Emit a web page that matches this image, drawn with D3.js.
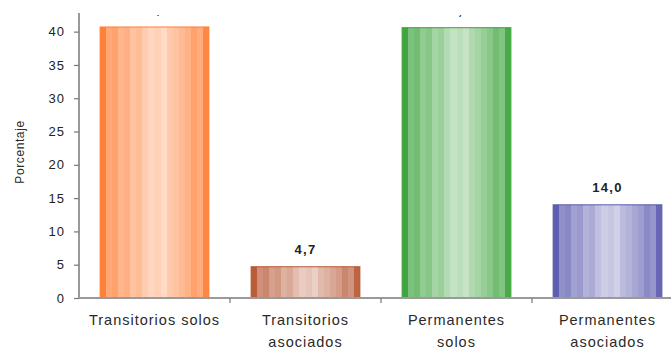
<!DOCTYPE html>
<html>
<head>
<meta charset="utf-8">
<script src="https://cdn.jsdelivr.net/npm/d3@7/dist/d3.min.js"></script>
<style>
  html, body { margin: 0; padding: 0; background: #fff; }
  svg { display: block; font-family: "Liberation Sans", Arial, sans-serif; }
</style>
</head>
<body>
<svg id="chart" width="671" height="349"></svg>
<script>
// Categories (two-line labels) and their percentages
const categories = ["Transitorios solos", "Transitorios asociados", "Permanentes solos", "Permanentes asociados"];
const categoryLines = [["Transitorios solos"], ["Transitorios", "asociados"], ["Permanentes", "solos"], ["Permanentes", "asociados"]];
const values = [40.7, 4.7, 40.6, 14.0];
const yTicks = [0, 5, 10, 15, 20, 25, 30, 35, 40];
const barColors = ["#ff7a2e", "#b5532f", "#36a036", "#5656ad"];

const svg = d3.select("#chart");
const W = 671, H = 349;
const plotLeft = 79, plotRight = 683, plotTop = 13, plotBottom = 298;

const x = d3.scaleBand().domain(categories).range([plotLeft, plotRight]).paddingInner(0.28).paddingOuter(0.14);
const y = d3.scaleLinear().domain([0, 42.8]).range([plotBottom, plotTop]);

// Vertical stripe shading across each bar (0 = full colour, 1 = white)
const stripes = [0.05, 0.35, 0.3, 0.45, 0.4, 0.55, 0.5, 0.62, 0.7, 0.66, 0.72, 0.6, 0.55, 0.48, 0.42, 0.3, 0.38, 0.1];
const defs = svg.append("defs");
barColors.forEach((c, i) => {
  const g = defs.append("linearGradient").attr("id", "stripe" + i)
    .attr("x1", "0%").attr("x2", "100%").attr("y1", "0%").attr("y2", "0%");
  const n = stripes.length;
  stripes.forEach((t, k) => {
    const col = d3.interpolateRgb(c, "#ffffff")(t);
    g.append("stop").attr("offset", (k / n * 100) + "%").attr("stop-color", col);
    g.append("stop").attr("offset", ((k + 1) / n * 100) + "%").attr("stop-color", col);
  });
});
// Labels above the top of the frame are cut off
defs.append("clipPath").attr("id", "plotClip")
  .append("rect").attr("x", 0).attr("y", plotTop + 2).attr("width", W).attr("height", H - plotTop);

// Bars
svg.append("g").selectAll("rect").data(values).join("rect")
  .attr("x", (d, i) => x(categories[i]))
  .attr("y", d => y(d))
  .attr("width", x.bandwidth())
  .attr("height", d => y(0) - y(d))
  .attr("fill", (d, i) => `url(#stripe${i})`)
  .attr("stroke", (d, i) => barColors[i])
  .attr("stroke-opacity", 0.8)
  .attr("stroke-width", 1.2);

// Value labels
const fmt = d => d3.format(".1f")(d).replace(".", ",");
svg.append("g").attr("clip-path", "url(#plotClip)")
  .selectAll("text").data(values).join("text")
  .attr("x", (d, i) => x(categories[i]) + x.bandwidth() / 2)
  .attr("y", d => y(d) - 13)
  .attr("text-anchor", "middle")
  .attr("font-size", 13).attr("font-weight", "bold")
  .attr("letter-spacing", 1.3)
  .attr("fill", "#222")
  .text(fmt);

// Y axis
const yAxis = d3.axisLeft(y).tickValues(yTicks).tickSize(5).tickPadding(9).tickFormat(d3.format("d"));
const ya = svg.append("g").attr("transform", `translate(${plotLeft},0)`).call(yAxis);
ya.select(".domain").attr("stroke", "#777").attr("stroke-width", 1.5).attr("d", `M0,${plotTop}V${plotBottom}`);
ya.selectAll(".tick line").attr("stroke", "#777").attr("stroke-width", 1.2);
ya.selectAll(".tick text").attr("font-size", 13).attr("letter-spacing", 1).attr("fill", "#222")
  .attr("font-family", "Liberation Sans, Arial, sans-serif");

// X axis baseline and category separators
const xa = svg.append("g").attr("transform", `translate(0,${plotBottom})`);
xa.append("line").attr("x1", plotLeft).attr("x2", W).attr("y1", 0).attr("y2", 0)
  .attr("stroke", "#9a9a9a").attr("stroke-width", 2.2);
const step = x.step();
const bounds = d3.range(1, categories.length).map(i => x(categories[i]) - (step - x.bandwidth()) / 2);
xa.selectAll(".sep").data(bounds).join("line")
  .attr("x1", d => d).attr("x2", d => d).attr("y1", 0).attr("y2", 5)
  .attr("stroke", "#777").attr("stroke-width", 1.2);

// Category labels
const cl = svg.append("g").selectAll("text").data(categoryLines).join("text")
  .attr("text-anchor", "middle")
  .attr("font-size", 14.5).attr("letter-spacing", 1).attr("fill", "#2a2a2a")
  .attr("transform", (d, i) => `translate(${x(categories[i]) + x.bandwidth() / 2},325)`);
cl.selectAll("tspan").data(d => d).join("tspan")
  .attr("x", 0).attr("dy", (d, j) => j === 0 ? 0 : 21.5).text(d => d);

// Y axis title
svg.append("text")
  .attr("transform", "translate(24,152) rotate(-90)")
  .attr("text-anchor", "middle")
  .attr("font-size", 12).attr("letter-spacing", 0.6).attr("fill", "#2a2a2a")
  .text("Porcentaje");
</script>
</body>
</html>
